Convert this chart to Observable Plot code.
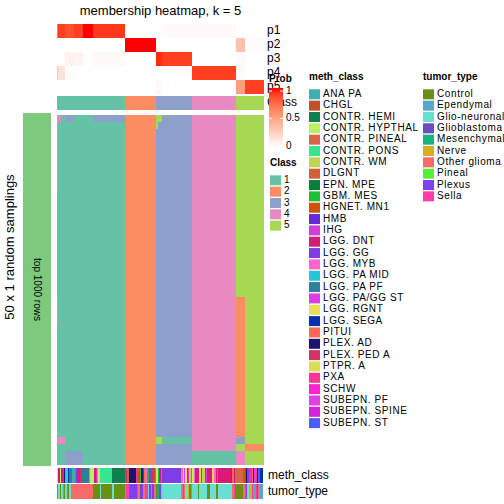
<!DOCTYPE html>
<html><head><meta charset="utf-8">
<script src="https://cdn.jsdelivr.net/npm/d3@7"></script>
<script src="https://cdn.jsdelivr.net/npm/@observablehq/plot@0.6"></script>
<style>
body{margin:0;background:#fff;font-family:"Liberation Sans",Arial,sans-serif;}
#root{position:relative;width:504px;height:504px;overflow:hidden;background:#fff;}
#root svg{max-width:none;}
</style></head><body><div id="root"></div>
<script>
// ---------------- data ----------------
const N = 150; // samples (columns)
const classNames = [1, 2, 3, 4, 5];
const classColors = ["#66C2A5", "#FC8D62", "#8DA0CB", "#E78AC3", "#A6D854"];
const groupStart = [0, 49, 72, 98, 130];
const groupEnd = [49, 72, 98, 130, 150];

// column blocks (sample index ranges) with membership probabilities
const blockStart = [0, 1, 3, 6, 12, 19, 26, 49, 72, 73, 76, 98, 130, 136];
const blockEnd   = [1, 3, 6, 12, 19, 26, 49, 72, 73, 76, 98, 130, 136, 150];
const blockClass = [1, 1, 1, 1, 1, 1, 1, 2, 3, 3, 3, 4, 5, 5];
const probP1 = [0.7, 0.9, 0.9, 0.85, 0.9, 1.0, 0.92, 0, 0, 0, 0.03, 0.03, 0, 0];
const probP2 = [0, 0, 0, 0, 0, 0, 0, 1, 0, 0, 0, 0, 0.33, 0.02];
const probP3 = [0, 0, 0, 0.07, 0.06, 0, 0.03, 0, 0.95, 0.95, 0.9, 0, 0.02, 0];
const probP4 = [0.3, 0.15, 0.15, 0.02, 0, 0, 0, 0, 0, 0, 0, 0.9, 0.03, 0];
const probP5 = [0, 0, 0, 0, 0, 0, 0, 0, 0.04, 0.04, 0, 0, 0.5, 0.9];
const probRows = ["p1", "p2", "p3", "p4", "p5"];

// random samplings (50 rows): class per block, with deviations
const nSamplings = 50;
const devRowFrom = [0, 0, 0, 0, 1, 1, 26, 26, 46, 46, 46, 46, 47, 47, 48, 48, 48];
const devRowTo   = [0, 0, 0, 0, 10, 1, 29, 45, 46, 46, 46, 46, 47, 47, 49, 49, 49];
const devStart   = [0, 6, 26, 72, 0, 72, 0, 130, 0, 72, 76, 130, 130, 136, 6, 98, 130];
const devEnd     = [3, 12, 49, 76, 1, 73, 1, 136, 6, 76, 98, 136, 136, 150, 19, 130, 136];
const devClass   = [4, 3, 3, 5, 4, 5, 4, 2, 4, 5, 1, 3, 5, 2, 3, 1, 4];

// annotation legends
const methClasses = ["ANA PA","CHGL","CONTR. HEMI","CONTR. HYPTHAL","CONTR. PINEAL","CONTR. PONS","CONTR. WM","DLGNT","EPN. MPE","GBM. MES","HGNET. MN1","HMB","IHG","LGG. DNT","LGG. GG","LGG. MYB","LGG. PA MID","LGG. PA PF","LGG. PA/GG ST","LGG. RGNT","LGG. SEGA","PITUI","PLEX. AD","PLEX. PED A","PTPR. A","PXA","SCHW","SUBEPN. PF","SUBEPN. SPINE","SUBEPN. ST"];
const methColors = ["#3BAFB0","#C0502A","#0E7F4F","#B8F060","#D9644A","#36E58E","#BFD454","#D0603C","#0A7F3A","#1BBF3A","#CC5508","#6428D8","#D43CD8","#D81B78","#7E3DE6","#FF66CC","#22C8D6","#2E7F9C","#DD3BE6","#E8E050","#0531B0","#FF6655","#1E1470","#D63068","#D8E050","#FF3399","#FF22CC","#E040E0","#D820E0","#4A5CFF"];
const tumorTypes = ["Control","Ependymal","Glio-neuronal","Glioblastoma","Mesenchymal","Nerve","Other glioma","Pineal","Plexus","Sella"];
const tumorColors = ["#6B8E14","#55A8CC","#66E0D0","#6A4CC0","#17B080","#D4B020","#F66A6A","#55EE33","#8040F0","#FF3DAA"];

// per-sample annotations, as runs (value, number of samples)
const methRunValue = [
 "LGG. RGNT","LGG. DNT","CONTR. HYPTHAL","LGG. DNT","SUBEPN. SPINE","PLEX. AD","LGG. PA MID","LGG. MYB","LGG. SEGA","LGG. PA PF","ANA PA","LGG. PA/GG ST","LGG. GG","LGG. DNT","PLEX. PED A","LGG. PA PF","LGG. MYB","CONTR. HYPTHAL","LGG. DNT","SCHW","LGG. MYB","CONTR. HYPTHAL","CONTR. PONS","CONTR. HEMI",
 "HGNET. MN1","PLEX. PED A","DLGNT","PLEX. AD","PXA","HGNET. MN1","GBM. MES","PLEX. AD","EPN. MPE","PITUI","LGG. MYB","GBM. MES","LGG. GG","SUBEPN. ST","PLEX. PED A","CHGL",
 "SUBEPN. PF","CONTR. HYPTHAL","GBM. MES","LGG. DNT","CONTR. PINEAL","LGG. GG","LGG. MYB","CONTR. HYPTHAL","LGG. PA/GG ST","LGG. RGNT","LGG. DNT","SCHW","CONTR. WM",
 "LGG. PA/GG ST","CONTR. HYPTHAL","LGG. MYB","LGG. DNT","PTPR. A","LGG. DNT","CONTR. WM","LGG. DNT","SUBEPN. PF","LGG. DNT","LGG. RGNT","LGG. MYB","LGG. DNT","PXA","LGG. DNT","EPN. MPE","PITUI","LGG. DNT",
 "CONTR. PINEAL","HGNET. MN1","SUBEPN. ST","PLEX. AD","LGG. GG","SCHW","PITUI","LGG. SEGA","SUBEPN. PF","PXA","PLEX. AD","SUBEPN. ST","LGG. SEGA"];
const methRunLength = [
 1,1,1,1,1,1,1,1,1,2,2,1,1,2,1,5,1,3,1,1,1,1,9,9,
 1,1,1,5,1,2,1,1,1,1,1,2,1,1,1,1,
 1,1,1,1,1,14,1,1,1,1,1,1,1,
 1,1,1,3,1,1,2,1,1,3,2,1,1,1,9,1,1,1,
 6,1,1,1,1,2,1,1,1,1,1,1,2];
const tumorRunValue = [
 "Sella","Glio-neuronal","Control","Glio-neuronal","Other glioma","Control","Glio-neuronal","Sella","Control","Glio-neuronal","Other glioma","Control","Glio-neuronal","Control","Glio-neuronal","Control",
 "Other glioma","Sella","Plexus","Sella","Other glioma","Glioblastoma","Plexus","Ependymal","Other glioma","Sella","Mesenchymal","Glio-neuronal","Plexus","Ependymal","Plexus","Other glioma",
 "Other glioma","Control","Mesenchymal","Plexus","Pineal","Glio-neuronal","Other glioma","Control","Other glioma","Glio-neuronal","Nerve","Control",
 "Other glioma","Glio-neuronal","Control","Glio-neuronal","Control","Glio-neuronal","Control","Glio-neuronal","Other glioma","Sella",
 "Control","Other glioma","Sella","Plexus","Glio-neuronal","Nerve","Sella","Other glioma","Ependymal","Sella","Plexus","Other glioma","Ependymal"];
const tumorRunLength = [
 1,1,1,1,1,1,1,1,1,1,16,5,1,8,1,8,
 1,2,6,1,1,1,1,1,1,1,1,1,1,1,1,1,
 1,1,1,1,1,14,1,1,1,2,1,1,
 1,4,1,6,2,4,2,10,1,1,
 6,1,1,1,1,2,1,1,1,1,1,1,2];

// ---------------- layout helpers ----------------
const root = document.getElementById("root");
function place(node, left, top) {
  node.style.position = "absolute";
  node.style.left = left + "px";
  node.style.top = top + "px";
  root.appendChild(node);
  return node;
}
const HX = 57, HW = 207;
const FONT = "Liberation Sans, Arial, sans-serif";
const classScale = {type: "ordinal", domain: classNames, range: classColors};

function expand(values, lengths) {
  const out = [];
  values.forEach((v, i) => { for (let k = 0; k < lengths[i]; k++) out.push(v); });
  return out;
}

// ---------------- probability rows ----------------
const probVals = [probP1, probP2, probP3, probP4, probP5];
const probCells = [];
probRows.forEach((p, i) => blockStart.forEach((s, j) =>
  probCells.push({row: p, x1: s, x2: blockEnd[j], v: probVals[i][j]})));
place(Plot.plot({
  width: HW, height: 70, margin: 0,
  x: {domain: [0, N], axis: null},
  y: {domain: probRows, axis: null, padding: 0},
  color: {type: "linear", domain: [0, 1], range: ["#FFFFFF", "#FF0000"], interpolate: "lab"},
  marks: [Plot.barX(probCells, {x1: "x1", x2: "x2", y: "row", fill: "v", shapeRendering: "crispEdges"})]
}), HX, 24);

// class row
const classCells = groupStart.map((s, i) => ({row: "Class", x1: s, x2: groupEnd[i], c: classNames[i]}));
place(Plot.plot({
  width: HW, height: 14, margin: 0,
  x: {domain: [0, N], axis: null},
  y: {domain: ["Class"], axis: null, padding: 0},
  color: classScale,
  marks: [Plot.barX(classCells, {x1: "x1", x2: "x2", y: "row", fill: "c", shapeRendering: "crispEdges"})]
}), HX, 96);

// ---------------- main heatmap ----------------
const mainCells = [];
for (let r = 0; r < nSamplings; r++)
  blockStart.forEach((s, j) => mainCells.push({r, x1: s, x2: blockEnd[j], c: blockClass[j]}));
devRowFrom.forEach((f, i) => {
  for (let r = f; r <= devRowTo[i]; r++) mainCells.push({r, x1: devStart[i], x2: devEnd[i], c: devClass[i]});
});
place(Plot.plot({
  width: HW, height: 353, margin: 0,
  x: {domain: [0, N], axis: null},
  y: {domain: d3.range(nSamplings), axis: null, padding: 0},
  color: classScale,
  marks: [Plot.barX(mainCells, {x1: "x1", x2: "x2", y: "r", fill: "c", shapeRendering: "crispEdges"})]
}), HX, 113);

// ---------------- annotations ----------------
const methPerSample = expand(methRunValue, methRunLength);
const tumorPerSample = expand(tumorRunValue, tumorRunLength);
function annot(values, name, domain, range, top) {
  const cells = values.map((v, i) => ({row: name, x1: i, x2: i + 1, v}));
  place(Plot.plot({
    width: HW, height: 15, margin: 0,
    x: {domain: [0, N], axis: null},
    y: {domain: [name], axis: null, padding: 0},
    color: {type: "ordinal", domain, range},
    marks: [Plot.barX(cells, {x1: "x1", x2: "x2", y: "row", fill: "v", shapeRendering: "crispEdges"})]
  }), HX, top);
}
annot(methPerSample, "meth_class", methClasses, methColors, 468);
annot(tumorPerSample, "tumor_type", tumorTypes, tumorColors, 484);

// ---------------- overlay: text and legends ----------------
const svg = d3.select(root).append("svg")
  .attr("width", 504).attr("height", 504)
  .style("position", "absolute").style("left", "0px").style("top", "0px")
  .style("font-family", FONT);

svg.append("text").attr("x", 160.5).attr("y", 12).attr("text-anchor", "middle")
  .attr("dominant-baseline", "middle").attr("font-size", 13).text("membership heatmap, k = 5");

// left labels
svg.append("text").attr("transform", "translate(11,247) rotate(-90)").attr("text-anchor", "middle")
  .attr("dominant-baseline", "middle").attr("font-size", 13).text("50 x 1 random samplings");
svg.append("rect").attr("x", 23).attr("y", 113).attr("width", 28).attr("height", 353).attr("fill", "#7FC97F");
svg.append("text").attr("transform", "translate(37,289.5) rotate(90)").attr("text-anchor", "middle")
  .attr("dominant-baseline", "middle").attr("font-size", 10).text("top 1000 rows");

// row labels
const rowLabels = probRows.concat(["Class"]);
const rowLabelY = [31, 45, 59, 73, 87, 103];
rowLabels.forEach((t, i) => svg.append("text").attr("x", 267).attr("y", rowLabelY[i])
  .attr("dominant-baseline", "middle").attr("font-size", 12).text(t));
svg.append("text").attr("x", 268).attr("y", 476).attr("dominant-baseline", "middle").attr("font-size", 12).text("meth_class");
svg.append("text").attr("x", 268).attr("y", 492).attr("dominant-baseline", "middle").attr("font-size", 12).text("tumor_type");

// Prob legend
const defs = svg.append("defs");
const grad = defs.append("linearGradient").attr("id", "pg").attr("x1", 0).attr("x2", 0).attr("y1", 0).attr("y2", 1);
const lab = d3.interpolateLab("#FFFFFF", "#FF0000");
d3.range(0, 11).forEach(k => grad.append("stop").attr("offset", (k / 10)).attr("stop-color", lab(1 - k / 10)));
svg.append("text").attr("x", 269).attr("y", 79).attr("dominant-baseline", "middle")
  .attr("font-size", 10).attr("font-weight", "bold").text("Prob");
svg.append("rect").attr("x", 269).attr("y", 88).attr("width", 14).attr("height", 59).attr("fill", "url(#pg)");
const probTicks = [1, 0.5, 0];
const probTickLabels = ["1", "0.5", "0"];
probTicks.forEach((v, i) => {
  const y = 146 - v * 55;
  svg.append("line").attr("x1", 269).attr("x2", 272).attr("y1", y).attr("y2", y).attr("stroke", "#fff");
  svg.append("line").attr("x1", 280).attr("x2", 283).attr("y1", y).attr("y2", y).attr("stroke", "#fff");
  svg.append("text").attr("x", 286).attr("y", y).attr("dominant-baseline", "middle").attr("font-size", 10).text(probTickLabels[i]);
});

// discrete legends
function legend(x, titleY, title, names, colors) {
  svg.append("text").attr("x", x).attr("y", titleY).attr("dominant-baseline", "middle")
    .attr("font-size", 10).attr("font-weight", "bold").text(title);
  names.forEach((n, i) => {
    const cy = titleY + 17.3 + i * 11.34;
    svg.append("rect").attr("x", x).attr("y", cy - 5).attr("width", 11).attr("height", 10).attr("fill", colors[i]);
    svg.append("text").attr("x", x + 14).attr("y", cy).attr("dominant-baseline", "middle")
      .attr("font-size", 10).attr("letter-spacing", 0.6).text(n);
  });
}
legend(270, 163, "Class", classNames.map(String), classColors);
legend(309, 77, "meth_class", methClasses, methColors);
legend(423, 77, "tumor_type", tumorTypes, tumorColors);
</script></body></html>
